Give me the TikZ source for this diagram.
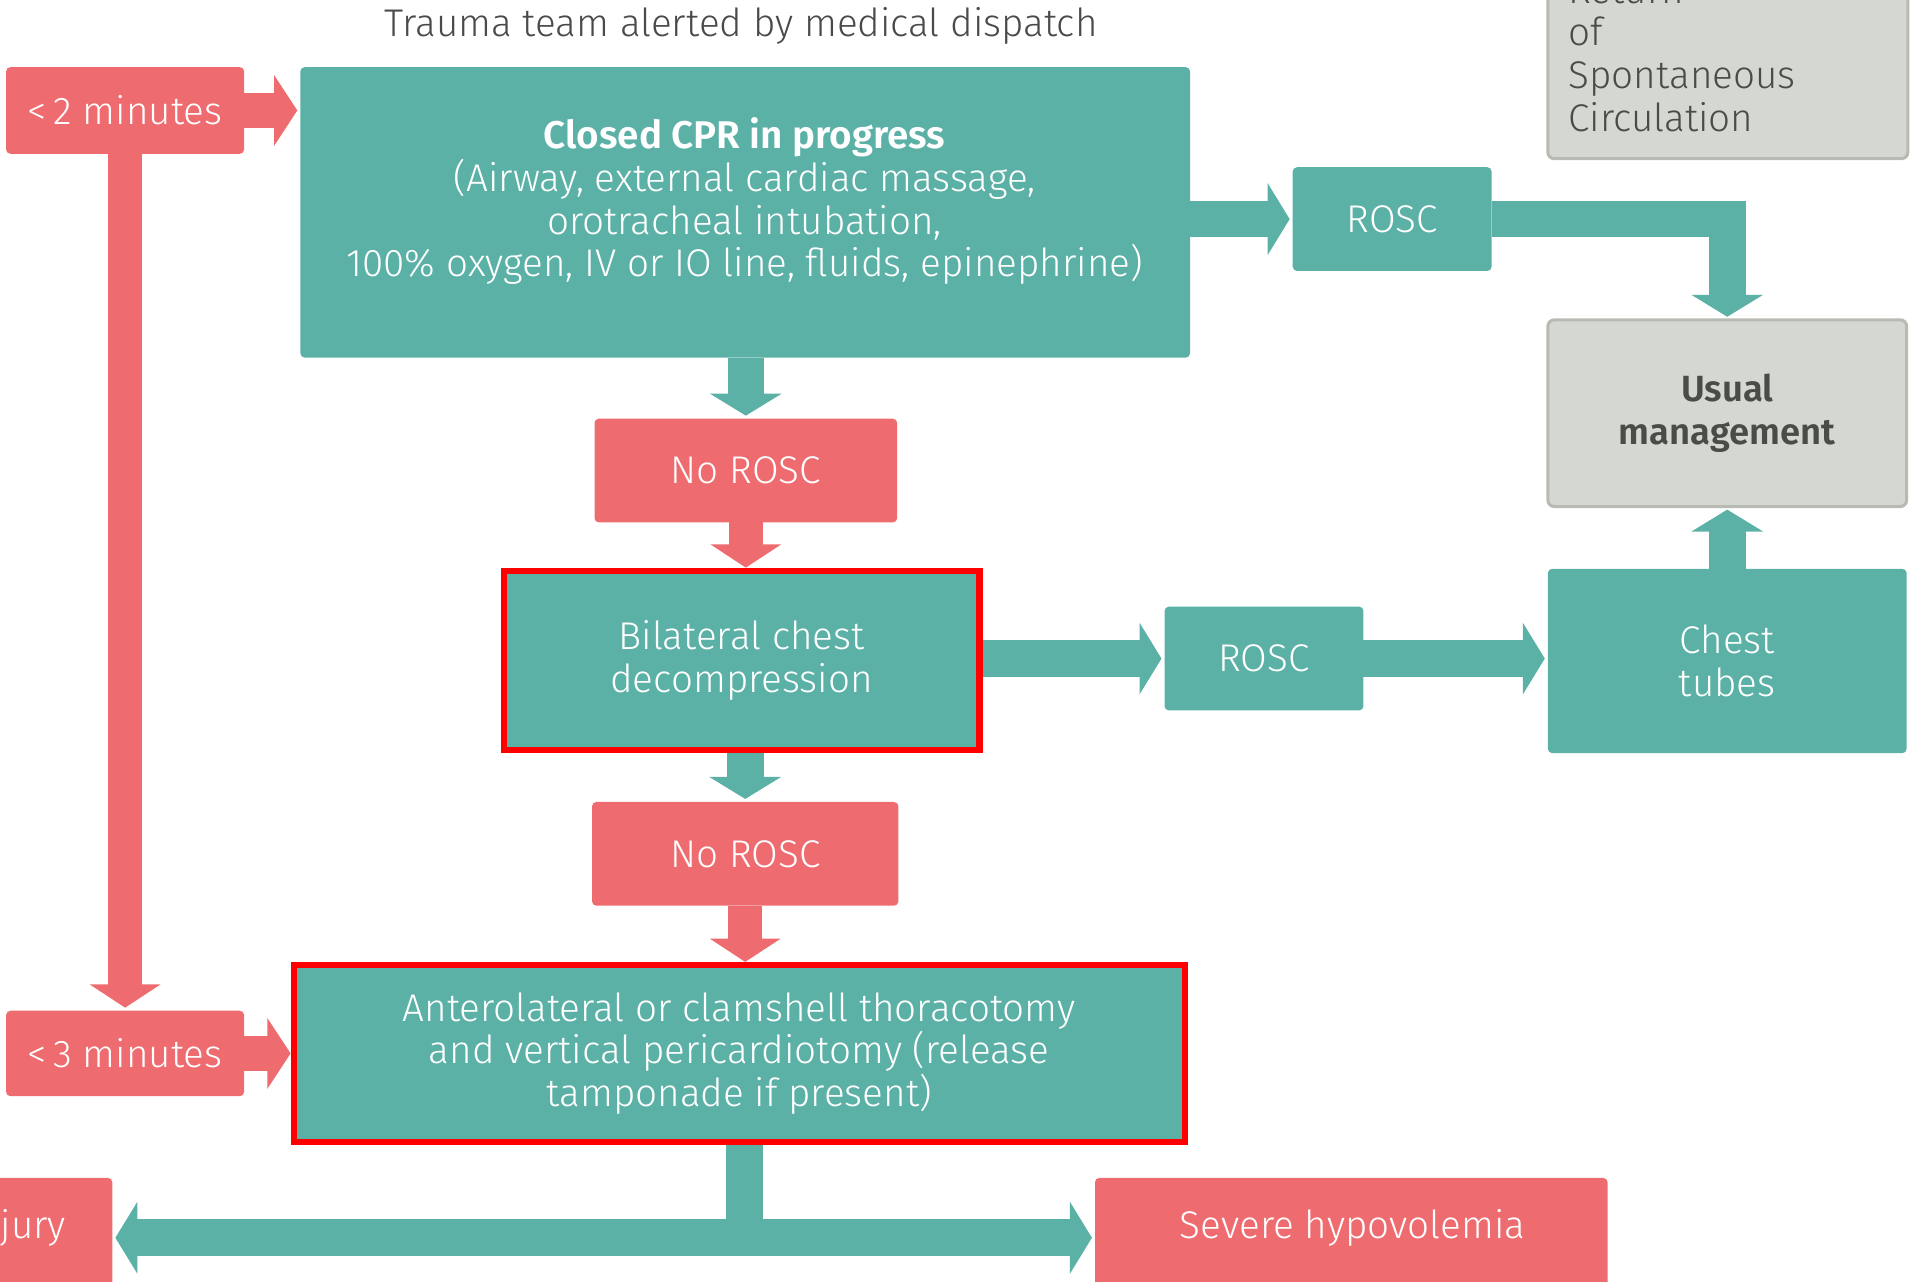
\documentclass[tikz,border=0pt]{standalone}
\usepackage{fontspec}
\setmainfont{Fira Sans}[UprightFont=* Light, BoldFont=* SemiBold]
\usetikzlibrary{arrows.meta,backgrounds}
\definecolor{tealc}{HTML}{5CB1A7}
\definecolor{redc}{HTML}{EE6B6F}
\definecolor{grayfill}{HTML}{D5D7D1}
\definecolor{grayline}{HTML}{B8BBB4}
\definecolor{graytxt}{HTML}{4A4C48}
\definecolor{titletxt}{HTML}{4A4A4A}
\definecolor{hilite}{HTML}{FF0000}
\begin{document}
\begin{tikzpicture}[x=0.02cm,y=-0.02cm,
  every node/.style={font=\fontsize{18}{19.9}\selectfont, align=center, inner sep=0pt, outer sep=0pt},
  tbox/.style={fill=tealc, rounded corners=2pt, text=white},
  rbox/.style={fill=redc, rounded corners=2pt, text=white},
  gbox/.style={fill=grayfill, draw=grayline, line width=0.05cm, rounded corners=3pt, text=graytxt},
  hbox/.style={fill=tealc, draw=hilite, line width=0.1cm, text=white},
  ttext/.style={text=white},
  tarr/.style={draw=tealc, line width=0.6cm, line join=miter, -{Triangle[length=0.36cm,width=1.16cm]}, shorten >=0.05cm},
  rarr/.style={draw=redc, line width=0.56cm, -{Triangle[length=0.38cm,width=1.14cm]}, shorten >=0.05cm}
]
\useasboundingbox (0,0) rectangle (1568,1050);
\clip (0,0) rectangle (1568,1050);

% title
\node[text=titletxt] (title) at (607,21) {Trauma team alerted by medical dispatch};

% top right grey box (partly cut off)
\node[gbox, minimum width=5.9cm, minimum height=3.8cm] (retbox) at (1415.5,35) {};
\node[anchor=west, align=left, text=graytxt] (rettext) at (1285,44.5) {Return\\of\\Spontaneous\\Circulation};

% red timing boxes
\node[rbox, minimum width=3.9cm, minimum height=1.42cm] (min2) at (102.5,90.5) {<\,2 minutes};
\node[rbox, minimum width=3.9cm, minimum height=1.4cm] (min3) at (102.5,863) {<\,3 minutes};

% CPR box
\node[tbox, minimum width=14.58cm, minimum height=4.76cm] (cpr) at (610.5,174) {};
\node[ttext] (cprtext) at (610,165) {\textbf{Closed CPR in progress}\\(Airway, external cardiac massage,\\orotracheal intubation,\\100\% oxygen, IV or IO line, fluids, epinephrine)};

% ROSC top
\node[tbox, minimum width=3.26cm, minimum height=1.7cm] (rosc1) at (1140.5,179.5) {ROSC};

% usual management
\node[gbox, minimum width=5.88cm, minimum height=3.06cm, font=\fontsize{17}{19.9}\selectfont\bfseries] (usual) at (1415,338.5) {Usual\\management};

% No ROSC 1
\node[rbox, minimum width=4.96cm, minimum height=1.7cm] (noro1) at (611,385.5) {No ROSC};

% Bilateral
\node[hbox, minimum width=7.8cm, minimum height=2.94cm] (bilat) at (607.5,541) {Bilateral chest\\decompression};

% ROSC mid
\node[tbox, minimum width=3.26cm, minimum height=1.7cm] (rosc2) at (1035.5,539.5) {ROSC};

% Chest tubes
\node[tbox, minimum width=5.88cm, minimum height=3.02cm] (tubes) at (1415,541.5) {Chest\\tubes};

% No ROSC 2
\node[rbox, minimum width=5.02cm, minimum height=1.7cm] (noro2) at (610.5,699.5) {No ROSC};

% Anterolateral
\node[hbox, minimum width=14.6cm, minimum height=2.9cm] (antero) at (605.5,863) {Anterolateral or clamshell thoracotomy\\and vertical pericardiotomy (release\\tamponade if present)};

% bottom boxes (cut off)
\node[rbox, minimum width=2.44cm, minimum height=1.96cm] (injury) at (31,1014) {};
\node[ttext, anchor=east] (injtext) at (54,1006) {jury};
\node[rbox, minimum width=8.4cm, minimum height=1.96cm] (hypo) at (1107,1014) {};
\node[ttext] (hypotext) at (1108,1006) {Severe hypovolemia};

\coordinate (stem) at (610,938);

\begin{scope}[on background layer]
  \draw[rarr] (min2.east) -- (cpr.west |- min2.east);
  \draw[rarr] (min2.south) -- (min3.north);
  \draw[rarr] (min3.east) -- (antero.west |- min3.east);
  \draw[tarr] (cpr.east |- rosc1.west) -- (rosc1.west);
  \draw[tarr] (rosc1.east) -| (usual.north);
  \draw[tarr] (cpr.south -| noro1.north) -- (noro1.north);
  \draw[rarr] (noro1.south) -- (bilat.north -| noro1.south);
  \draw[tarr] (bilat.east |- rosc2.west) -- (rosc2.west);
  \draw[tarr] (rosc2.east) -- (tubes.west |- rosc2.east);
  \draw[tarr] (tubes.north) -- (usual.south);
  \draw[tarr] (bilat.south -| noro2.north) -- (noro2.north);
  \draw[rarr] (noro2.south) -- (antero.north -| noro2.south);
  \draw[tarr] (stem) |- (injury.east);
  \draw[tarr] (stem) |- (hypo.west);
\end{scope}
\end{tikzpicture}
\end{document}
